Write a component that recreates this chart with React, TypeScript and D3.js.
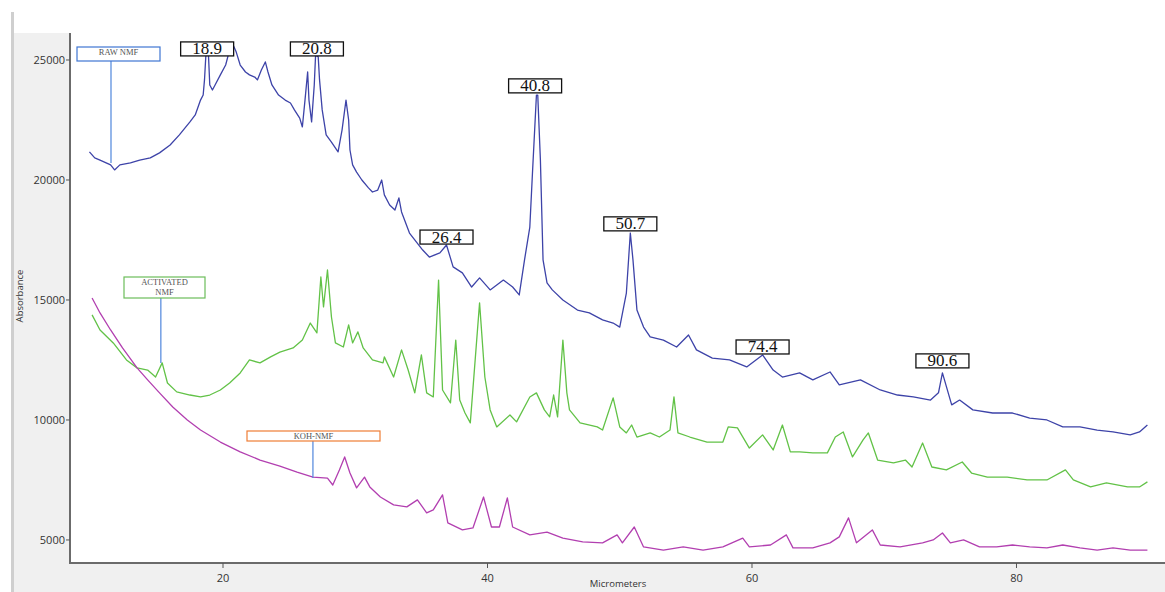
import React from 'react';
import * as d3 from 'd3';

// spectra, [micrometers, absorbance]
const rawNmf: [number, number][] = [
  [9.9, 21170], [10.3, 20920], [10.7, 20830], [11.5, 20630], [11.8, 20420], [12.2, 20630],
  [13.0, 20710], [13.7, 20830], [14.5, 20920], [15.2, 21130], [16.0, 21460], [16.7, 21880],
  [17.5, 22420], [17.9, 22710], [18.3, 23330], [18.5, 23540], [18.6, 24170], [18.7, 25170],
  [18.9, 25210], [19.0, 23960], [19.2, 23750], [19.4, 23960], [19.8, 24380], [20.2, 24790],
  [20.5, 25420], [20.8, 25580], [21.0, 25330], [21.3, 24790], [21.7, 24500], [22.0, 24380],
  [22.4, 24290], [22.6, 24170], [22.9, 24580], [23.2, 24920], [23.4, 24500], [23.7, 23960],
  [24.2, 23540], [24.7, 23330], [25.1, 23210], [25.4, 22920], [25.8, 22580], [26.0, 22210],
  [26.2, 23330], [26.4, 24500], [26.5, 23330], [26.7, 22420], [26.9, 23960], [27.0, 25210],
  [27.2, 25130], [27.3, 24170], [27.5, 22920], [27.8, 21880], [28.2, 21580], [28.7, 21170],
  [29.0, 22080], [29.3, 23330], [29.5, 22500], [29.6, 21250], [29.8, 20630], [30.1, 20330],
  [30.5, 20000], [31.0, 19670], [31.3, 19500], [31.7, 19580], [32.0, 20000], [32.2, 19380],
  [32.6, 18960], [33.0, 18750], [33.3, 19250], [33.5, 18670], [34.1, 17790], [35.1, 17080],
  [35.6, 16790], [36.4, 16960], [36.9, 17290], [37.4, 16380], [38.1, 16130], [38.8, 15540],
  [39.4, 15920], [40.2, 15420], [41.2, 15830], [41.9, 15540], [42.4, 15210], [42.8, 16670],
  [43.2, 18040], [43.4, 20290], [43.7, 23540], [43.8, 23540], [44.0, 20830], [44.2, 16670],
  [44.5, 15710], [44.9, 15420], [45.7, 15000], [46.8, 14580], [47.7, 14460], [48.7, 14170],
  [49.5, 14040], [50.0, 13870], [50.5, 15290], [50.8, 17790], [51.0, 16670], [51.3, 14580],
  [51.8, 13870], [52.3, 13460], [53.3, 13330], [54.3, 13040], [55.2, 13540], [55.8, 12920],
  [57.0, 12580], [58.3, 12500], [59.6, 12210], [60.8, 12710], [61.6, 12080], [62.3, 11790],
  [63.6, 11960], [64.6, 11670], [65.9, 12000], [66.6, 11460], [68.2, 11670], [69.7, 11250],
  [71.0, 11040], [72.2, 10960], [73.5, 10830], [74.1, 11130], [74.4, 11960], [75.1, 10630],
  [75.7, 10830], [76.7, 10420], [78.2, 10290], [79.7, 10290], [81.0, 10080], [82.3, 10000],
  [83.5, 9710], [84.8, 9710], [86.1, 9580], [87.3, 9500], [88.6, 9380], [89.3, 9500], [89.9, 9790],
];

const activatedNmf: [number, number][] = [
  [10.1, 14380], [10.7, 13750], [11.7, 13210], [12.7, 12500], [13.5, 12170], [14.3, 12080],
  [14.9, 11790], [15.4, 12380], [15.8, 11540], [16.5, 11170], [17.5, 11040], [18.3, 10960],
  [19.0, 11040], [19.8, 11250], [20.5, 11540], [21.3, 11960], [22.0, 12500], [22.8, 12380],
  [23.6, 12630], [24.3, 12830], [25.3, 13000], [26.0, 13330], [26.6, 14040], [27.1, 13630],
  [27.4, 15960], [27.6, 14710], [27.9, 16250], [28.2, 14290], [28.5, 13210], [29.1, 13040],
  [29.5, 13960], [29.8, 13210], [30.2, 13670], [30.6, 13000], [31.3, 12500], [32.1, 12380],
  [32.2, 12630], [32.9, 11790], [33.5, 12920], [34.0, 12080], [34.5, 11130], [35.0, 12710],
  [35.4, 11130], [35.9, 10960], [36.3, 15830], [36.6, 11250], [37.2, 10710], [37.6, 13330],
  [37.9, 10830], [38.3, 10290], [38.7, 9880], [39.4, 14880], [39.8, 11790], [40.2, 10420],
  [40.7, 9710], [41.7, 10210], [42.2, 9920], [43.2, 10960], [43.7, 11130], [44.3, 10420],
  [44.7, 10130], [45.0, 11040], [45.3, 10130], [45.7, 13330], [46.0, 11130], [46.2, 10420],
  [47.0, 9880], [48.3, 9710], [48.7, 9580], [49.5, 10920], [50.0, 9710], [50.5, 9460],
  [50.9, 9790], [51.3, 9290], [52.3, 9460], [53.0, 9290], [53.8, 9580], [54.1, 10960],
  [54.4, 9460], [55.3, 9290], [56.6, 9080], [57.8, 9080], [58.2, 9710], [58.9, 9670],
  [59.8, 8830], [60.8, 9380], [61.6, 8750], [62.3, 9790], [62.9, 8670], [63.6, 8670],
  [64.6, 8630], [65.7, 8630], [66.3, 9290], [66.9, 9500], [67.6, 8460], [68.4, 9170],
  [68.8, 9460], [69.5, 8330], [70.7, 8210], [71.6, 8330], [72.1, 8040], [72.9, 9040],
  [73.6, 8040], [74.7, 7920], [75.9, 8250], [76.6, 7790], [77.8, 7620], [79.3, 7620],
  [80.8, 7500], [82.3, 7500], [83.7, 7920], [84.3, 7500], [85.6, 7210], [86.8, 7380],
  [88.4, 7210], [89.3, 7210], [89.9, 7420],
];

const kohNmf: [number, number][] = [
  [10.1, 15080], [10.7, 14460], [11.5, 13750], [12.4, 13000], [13.5, 12170], [14.3, 11670],
  [15.2, 11130], [16.2, 10540], [17.3, 10000], [18.3, 9580], [19.8, 9080], [21.3, 8670],
  [22.8, 8330], [24.3, 8080], [25.6, 7830], [26.8, 7620], [27.9, 7580], [28.3, 7290],
  [28.8, 7920], [29.2, 8460], [29.6, 7790], [30.1, 7170], [30.7, 7620], [31.1, 7210],
  [31.9, 6790], [32.9, 6460], [33.9, 6380], [34.7, 6670], [35.4, 6130], [35.9, 6250],
  [36.6, 6880], [37.0, 5710], [38.1, 5420], [38.9, 5500], [39.7, 6790], [40.3, 5540],
  [40.9, 5540], [41.5, 6750], [41.9, 5540], [43.2, 5210], [44.5, 5330], [45.7, 5080],
  [47.2, 4920], [48.7, 4880], [49.8, 5210], [50.2, 4880], [51.1, 5540], [51.8, 4710],
  [53.3, 4580], [54.8, 4710], [56.3, 4580], [57.8, 4710], [59.3, 5080], [59.8, 4710],
  [61.4, 4790], [62.6, 5210], [63.1, 4670], [64.6, 4670], [65.9, 4880], [66.6, 5130],
  [67.3, 5920], [67.9, 4880], [69.1, 5420], [69.7, 4790], [71.2, 4710], [72.9, 4880],
  [73.7, 5000], [74.4, 5290], [75.0, 4880], [76.0, 5000], [77.2, 4710], [78.5, 4710],
  [79.7, 4790], [81.0, 4710], [82.3, 4670], [83.5, 4790], [84.8, 4670], [86.1, 4580],
  [87.3, 4670], [88.6, 4580], [89.9, 4580],
];

// peak call-outs: label, peak position, absorbance at box bottom
const peakLabels = ['18.9', '20.8', '26.4', '40.8', '50.7', '74.4', '90.6'];
const peakX = [18.8, 27.1, 36.9, 43.6, 50.8, 60.8, 74.4];
const peakY = [25170, 25170, 17330, 23630, 17880, 12750, 12170];

const xTicks = [20, 40, 60, 80];
const yTicks = [5000, 10000, 15000, 20000, 25000];

const W = 1165;
const H = 592;
const margin = { top: 33, right: 0, bottom: 29, left: 70 };

const xScale = d3.scaleLinear().domain([8.43, 91.23]).range([margin.left, W - margin.right]);
const yScale = d3.scaleLinear().domain([4040, 26125]).range([H - margin.bottom, margin.top]);

const line = d3.line<[number, number]>()
  .x((d) => xScale(d[0]))
  .y((d) => yScale(d[1]));

const series = [
  { name: 'raw', data: rawNmf, color: '#3d43a8' },
  { name: 'activated', data: activatedNmf, color: '#62c247' },
  { name: 'koh', data: kohNmf, color: '#b23fb0' },
];

// name tags with a leader down to the curve
const tags = [
  { lines: ['RAW NMF'], x: 11.53, y: 20710, box: [77, 47, 83, 14], color: '#3f76d2' },
  { lines: ['ACTIVATED', 'NMF'], x: 15.3, y: 12375, box: [124, 277, 81, 21], color: '#6cbd5a' },
  { lines: ['KOH-NMF'], x: 26.8, y: 7580, box: [247, 431, 133, 10], color: '#ef7d35' },
];

const sans = '"Open Sans", "DejaVu Sans", sans-serif';
const serif = '"Liberation Serif", "DejaVu Serif", serif';

const App = () => {
  const plotBottom = H - margin.bottom;
  return (
    <svg width={W} height={H} style={{ position: 'fixed', left: 0, top: 0, background: '#fff' }}>
      <rect x={12} y={margin.top} width={W - 12} height={H - margin.top} fill='#f0f0f0' />
      <rect x={11} y={12} width={3} height={H - 12} fill='#cfcfcf' />
      <rect x={margin.left} y={0} width={W - margin.left} height={plotBottom} fill='#fff' />
      <defs>
        <clipPath id='plot'>
          <rect x={margin.left} y={margin.top} width={W - margin.left} height={plotBottom - margin.top} />
        </clipPath>
      </defs>
      <g clipPath='url(#plot)'>
        {series.map((s) => (
          <path key={s.name} d={line(s.data) || ''} fill='none' stroke={s.color} strokeWidth={1.3} strokeLinejoin='round' />
        ))}
      </g>
      {tags.map((t, i) => {
        const [bx, by, bw, bh] = t.box;
        const fx = xScale(t.x);
        const fy = yScale(t.y);
        return (
          <g key={i}>
            <line x1={fx} x2={fx} y1={by + bh} y2={fy} stroke='#4f86dc' strokeWidth={1.2} />
            <rect x={bx} y={by} width={bw} height={bh} fill='#fff' stroke={t.color} strokeWidth={1.2} />
            {t.lines.map((l, j) => (
              <text key={j} x={bx + bw / 2} y={by + 8 + j * 10} textAnchor='middle' fontFamily={serif} fontSize={8.5} fill='#555'>{l}</text>
            ))}
          </g>
        );
      })}
      {peakLabels.map((lab, i) => {
        const cx = xScale(peakX[i]);
        const by = yScale(peakY[i]);
        return (
          <g key={lab}>
            <rect x={cx - 26.5} y={by - 14} width={53} height={14} fill='#fff' stroke='#111' strokeWidth={1.3} />
            <text x={cx} y={by - 1.5} textAnchor='middle' fontFamily={serif} fontSize={17} fill='#111'>{lab}</text>
          </g>
        );
      })}
      <line x1={margin.left} x2={margin.left} y1={margin.top} y2={plotBottom + 1} stroke='#6b6b6b' strokeWidth={2} />
      <line x1={margin.left - 1} x2={W} y1={plotBottom} y2={plotBottom} stroke='#6b6b6b' strokeWidth={2} />
      {yTicks.map((t) => (
        <g key={t}>
          <line x1={margin.left - 4} x2={margin.left} y1={yScale(t)} y2={yScale(t)} stroke='#555' />
          <text x={margin.left - 5} y={yScale(t) + 4} textAnchor='end' fontFamily={sans} fontSize={11} fill='#333'>{t}</text>
        </g>
      ))}
      {xTicks.map((t) => (
        <g key={t}>
          <line x1={xScale(t)} x2={xScale(t)} y1={plotBottom} y2={plotBottom + 5} stroke='#555' />
          <text x={xScale(t)} y={plotBottom + 19} textAnchor='middle' fontFamily={sans} fontSize={11} fill='#333'>{t}</text>
        </g>
      ))}
      <text x={618} y={587} textAnchor='middle' fontFamily={sans} fontSize={9.5} fill='#333'>Micrometers</text>
      <text transform='translate(23,296) rotate(-90)' textAnchor='middle' fontFamily={sans} fontSize={9.5} fill='#333'>Absorbance</text>
    </svg>
  );
};

export default App;
